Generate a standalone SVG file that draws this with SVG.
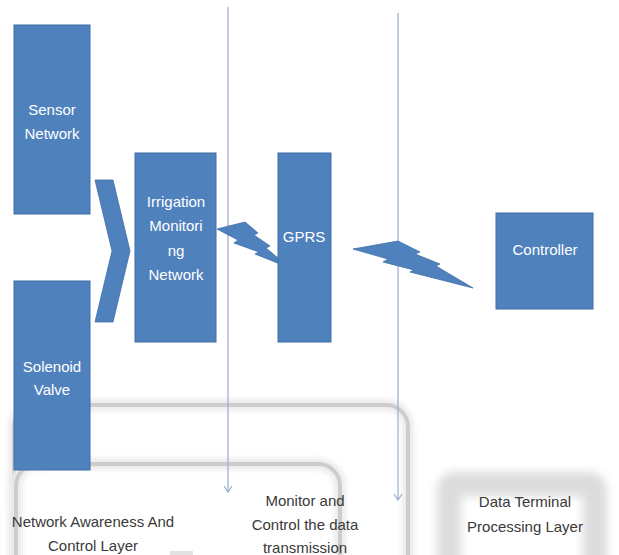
<svg xmlns="http://www.w3.org/2000/svg" width="619" height="555" viewBox="0 0 619 555">
<style>
.box{fill:#4f81bd;stroke:#3f6ea8;stroke-width:1}
.wt{font-family:"Liberation Sans",Arial,sans-serif;font-size:15px;fill:#ffffff;text-anchor:middle}
.dt{font-family:"Liberation Sans",Arial,sans-serif;font-size:15px;fill:#3a3a3a;text-anchor:middle}
.vline{stroke:#9aaccb;stroke-width:1.2;fill:none}
.bolt{fill:#4f81bd;stroke:#3f6ea8;stroke-width:0.8}
.frame{fill:none;stroke:#cdcdcd;stroke-width:4}
.halo{fill:none;stroke:#ececec;stroke-width:12}
</style>
<defs>
<filter id="soft" x="-20%" y="-20%" width="140%" height="140%"><feGaussianBlur stdDeviation="2.5"/></filter>
<filter id="soft2" x="-20%" y="-20%" width="140%" height="140%"><feGaussianBlur stdDeviation="5"/></filter>
<marker id="arr" markerWidth="10" markerHeight="10" refX="9" refY="5" orient="auto" markerUnits="userSpaceOnUse">
<path d="M3,1 L9,5 L3,9" fill="none" stroke="#9aaccb" stroke-width="1.2"/>
</marker>
</defs>
<rect width="619" height="555" fill="#ffffff"/>

<g id="layer-frames">
<rect class="halo" x="14" y="405" width="394" height="220" rx="22" filter="url(#soft)"/>
<rect class="frame" x="14" y="405" width="394" height="220" rx="22"/>
<rect class="halo" x="16" y="464" width="324" height="160" rx="22" filter="url(#soft)"/>
<rect class="frame" x="16" y="464" width="324" height="160" rx="22"/>
<rect x="449" y="484" width="146" height="120" rx="6" fill="none" stroke="#dcdcdc" stroke-width="24" filter="url(#soft2)"/>
<rect x="170" y="551" width="23" height="6" fill="#e2e2e2"/>
</g>

<g id="connectors">
<line class="vline" x1="228" y1="7" x2="228" y2="492" marker-end="url(#arr)"/>
<line class="vline" x1="398" y1="13" x2="398" y2="500" marker-end="url(#arr)"/>
<polygon class="bolt" points="217,229 245,222 258,233 254,235 270,246 266,248 290,268 255,254 259,252 234,243 238,240"/>
<polygon class="bolt" points="353,249 398,241 420,252 415,254 440,264 436,266 473,288 410,272 414,270 383,262 388,259"/>
<polygon class="bolt" points="95,180 113,180 130,251 113,322 95,322 112,251"/>
</g>

<g id="sensor-network">
<rect class="box" x="14" y="25" width="76" height="189"/>
<text class="wt" x="52" y="115">Sensor</text>
<text class="wt" x="52" y="139">Network</text>
</g>

<g id="solenoid-valve">
<rect class="box" x="14" y="281" width="76" height="189"/>
<text class="wt" x="52" y="372">Solenoid</text>
<text class="wt" x="52" y="395">Valve</text>
</g>

<g id="irrigation-monitoring-network">
<rect class="box" x="135" y="153" width="81" height="189"/>
<text class="wt" x="176" y="207">Irrigation</text>
<text class="wt" x="176" y="231">Monitori</text>
<text class="wt" x="176" y="256">ng</text>
<text class="wt" x="176" y="280">Network</text>
</g>

<g id="gprs">
<rect class="box" x="278" y="153" width="53" height="189"/>
<text class="wt" x="304" y="242">GPRS</text>
</g>

<g id="controller">
<rect class="box" x="496" y="213" width="97" height="96"/>
<text class="wt" x="545" y="255">Controller</text>
</g>

<g id="network-awareness-layer">
<text class="dt" x="93" y="527">Network Awareness And</text>
<text class="dt" x="93" y="551">Control Layer</text>
</g>

<g id="monitor-transmission-layer">
<text class="dt" x="305" y="506">Monitor and</text>
<text class="dt" x="305" y="530">Control the data</text>
<text class="dt" x="305" y="553">transmission</text>
</g>

<g id="data-terminal-layer">
<text class="dt" x="525" y="507">Data Terminal</text>
<text class="dt" x="525" y="532">Processing Layer</text>
</g>
</svg>
